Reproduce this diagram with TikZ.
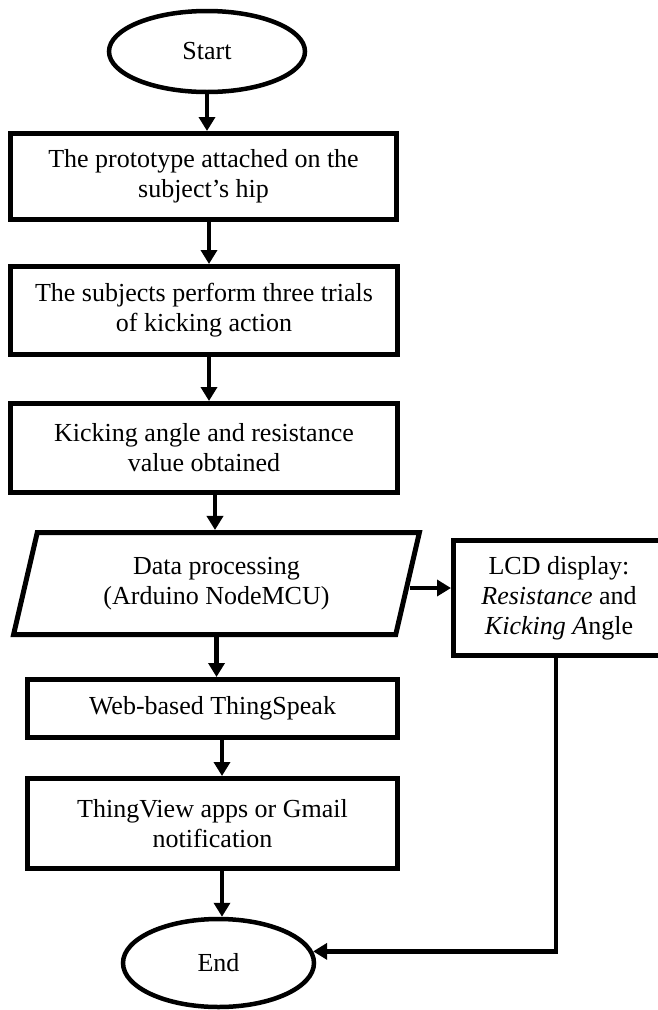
\documentclass[tikz,border=0pt]{standalone}
\usepackage{fontspec}
\setmainfont{Liberation Serif}
\usetikzlibrary{shapes.geometric,arrows.meta}
\begin{document}
\begin{tikzpicture}[x=1pt,y=-1pt,
  every node/.style={font=\fontsize{26}{30}\selectfont, align=center, text=black},
  box/.style={draw, line width=5pt, rectangle, inner sep=0pt},
  term/.style={draw, line width=4.5pt, ellipse, inner sep=0pt},
  io/.style={draw, line width=5pt, trapezium, trapezium left angle=74.2, trapezium right angle=105.8, trapezium stretches=true, inner sep=0pt},
  arr/.style={line width=4.5pt, -{Triangle[length=14pt,width=16pt]}}]
\useasboundingbox (0,0) rectangle (658,1010);
\node[term, minimum width=196pt, minimum height=81pt] (start) at (207,51.5) {Start};
\node[box, minimum width=386pt, minimum height=86pt] (b1) at (203.5,176.5) {The prototype attached on the\\subject’s hip};
\node[box, minimum width=387pt, minimum height=88pt] (b2) at (204,310.5) {The subjects perform three trials\\of kicking action};
\node[box, minimum width=387pt, minimum height=89pt] (b3) at (204,448) {Kicking angle and resistance\\value obtained};
\node[io, minimum width=406pt, minimum height=102pt] (para) at (216.5,583.5) {Data processing\\(Arduino NodeMCU)};
\node[box, minimum width=211pt, minimum height=115pt] (lcd) at (559,598) {LCD display:\\\textit{Resistance} and\\\textit{Kicking A}ngle};
\node[box, minimum width=370pt, minimum height=58pt] (web) at (212.5,708.5) {Web-based ThingSpeak};
\node[box, minimum width=370pt, minimum height=90pt] (tv) at (212.5,823.5) {ThingView apps or Gmail\\notification};
\node[term, minimum width=191pt, minimum height=88pt] (end) at (218.5,963) {End};

\draw[arr] (start.south) -- (start.south |- b1.north);
\draw[arr] ([xshift=5.5pt]b1.south) -- ([xshift=5.5pt]b1.south |- b2.north);
\draw[arr] ([xshift=5pt]b2.south) -- ([xshift=5pt]b2.south |- b3.north);
\draw[arr] ([xshift=11pt]b3.south) -- ([xshift=11pt]b3.south |- para.north);
\draw[arr] ([yshift=-4.5pt]para.east) -- ([yshift=-4.5pt]para.east -| lcd.west);
\draw[arr] (para.south) -- (para.south |- web.north);
\draw[arr] ([xshift=9.5pt]web.south) -- ([xshift=9.5pt]web.south |- tv.north);
\draw[arr] ([xshift=9.5pt]tv.south) -- ([xshift=9.5pt]tv.south |- end.north);
\draw[arr] ([xshift=-3pt]lcd.south) |- (end.7);
\end{tikzpicture}
\end{document}
